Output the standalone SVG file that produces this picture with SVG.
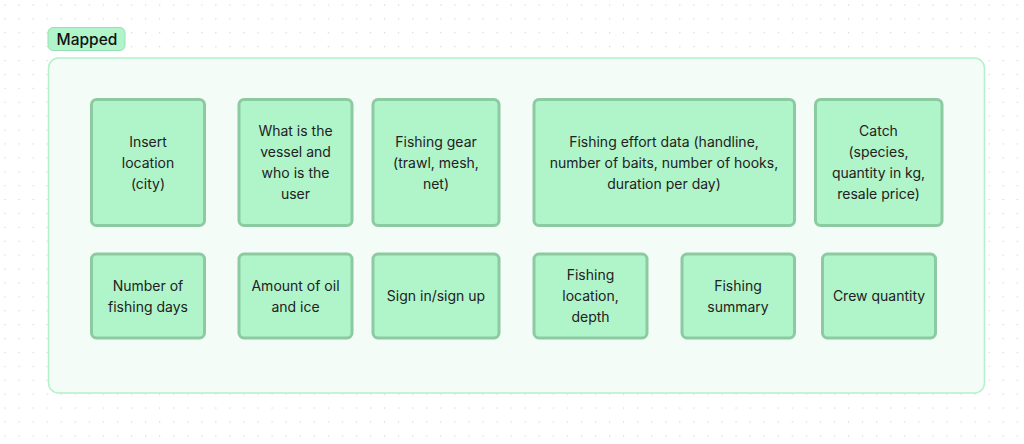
<svg xmlns="http://www.w3.org/2000/svg" width="1024" height="444" viewBox="0 0 1024 444">
<defs>
<pattern id="dots" x="5" y="5" width="14.06" height="13.9" patternUnits="userSpaceOnUse">
<circle cx="0.6" cy="0.6" r="0.7" fill="#d2d2d2"/>
</pattern>
</defs>
<style>
.node rect{fill:#b0f4c9;stroke:#8ccaa1;stroke-width:3}
.node text,.lbl text{font-family:Inter,"Liberation Sans",sans-serif;font-size:14px;fill:#222;text-anchor:middle}
</style>
<rect x="0" y="0" width="1024" height="444" fill="#ffffff"/>
<rect x="-5" y="-5" width="1040" height="460" fill="url(#dots)" transform="translate(-0.6,-0.6)"/>
<g id="frame">
<rect x="48.5" y="58" width="936" height="335" rx="10" fill="#f3fcf6" stroke="#b3f1c9" stroke-width="1.5"/>
</g>
<g id="label" class="lbl">
<rect x="48" y="27.5" width="77" height="23" rx="5" fill="#b0f4c9" stroke="#96e0b3" stroke-width="1"/>
<text x="87" y="44.5" style="font-size:15.5px;font-weight:500;fill:#111">Mapped</text>
</g>
<g id="connectors"></g>
<g id="n1" class="node"><rect x="91.5" y="99.5" width="113" height="126" rx="5"/>
<text x="148" y="147">Insert</text><text x="148" y="168">location</text><text x="148" y="189">(city)</text></g>
<g id="n2" class="node"><rect x="239" y="99.5" width="113" height="126" rx="5"/>
<text x="295.5" y="136">What is the</text><text x="295.5" y="157">vessel and</text><text x="295.5" y="178">who is the</text><text x="295.5" y="199">user</text></g>
<g id="n3" class="node"><rect x="373" y="99.5" width="126" height="126" rx="5"/>
<text x="436" y="147">Fishing gear</text><text x="436" y="168">(trawl, mesh,</text><text x="436" y="189">net)</text></g>
<g id="n4" class="node"><rect x="534" y="99.5" width="260.5" height="126" rx="5"/>
<text x="664" y="147">Fishing effort data (handline,</text><text x="664" y="168">number of baits, number of hooks,</text><text x="664" y="189">duration per day)</text></g>
<g id="n5" class="node"><rect x="815.5" y="99.5" width="126.5" height="126" rx="5"/>
<text x="878.5" y="136">Catch</text><text x="878.5" y="157">(species,</text><text x="878.5" y="178">quantity in kg,</text><text x="878.5" y="199">resale price)</text></g>
<g id="n6" class="node"><rect x="91.5" y="254" width="113" height="84" rx="5"/>
<text x="148" y="291">Number of</text><text x="148" y="312">fishing days</text></g>
<g id="n7" class="node"><rect x="239" y="254" width="113" height="84" rx="5"/>
<text x="295.5" y="291">Amount of oil</text><text x="295.5" y="312">and ice</text></g>
<g id="n8" class="node"><rect x="373" y="254" width="126" height="84" rx="5"/>
<text x="436" y="301">Sign in/sign up</text></g>
<g id="n9" class="node"><rect x="534" y="254" width="113" height="84" rx="5"/>
<text x="590.5" y="280">Fishing</text><text x="590.5" y="301">location,</text><text x="590.5" y="322">depth</text></g>
<g id="n10" class="node"><rect x="682" y="254" width="112.5" height="84" rx="5"/>
<text x="738" y="291">Fishing</text><text x="738" y="312">summary</text></g>
<g id="n11" class="node"><rect x="822.5" y="254" width="113" height="84" rx="5"/>
<text x="879" y="301">Crew quantity</text></g>
</svg>
